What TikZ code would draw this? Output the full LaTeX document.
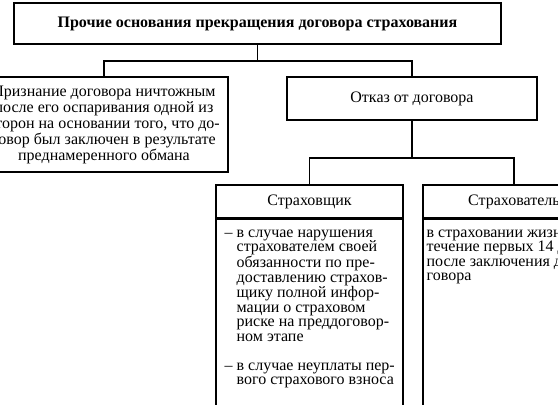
\documentclass[tikz,border=0pt]{standalone}
\usepackage{fontspec}
\setmainfont{Liberation Serif}
\usetikzlibrary{positioning}

\begin{document}
\begin{tikzpicture}[x=1pt, y=-1pt, line width=1.3pt,
    box/.style={draw, inner sep=0pt},
    boxtext/.style={font=\fontsize{16}{16}\selectfont, align=center},
    listtext/.style={font=\fontsize{16}{14.5}\selectfont, align=left, inner sep=0pt, anchor=north west}]
    \path[use as bounding box, clip] (0,0) rectangle (558,405);

    % Title
    \node[box, minimum width=487pt, minimum height=41pt, font=\bfseries\fontsize{16}{16}\selectfont] (title) at (257.5,23.5) {Прочие основания прекращения договора страхования};

    % Second level
    \node[box, boxtext, minimum width=248pt, minimum height=95pt] (nullity) at (104,124.5) {Признание договора ничтожным\\после его оспаривания одной из\\сторон на основании того, что до-\\говор был заключен в результате\\преднамеренного обмана};
    \node[box, boxtext, minimum width=250pt, minimum height=43pt] (refusal) at (412,98.5) {Отказ от договора};

    \coordinate (bus1) at (257.5,61);
    \draw (title.south) -- (bus1);
    \draw (nullity.north) |- (bus1) -| (refusal.north);

    % Third level
    \node[box, boxtext, minimum width=187pt, minimum height=33pt] (insurer) at (309.5,201.5) {Страховщик};
    \node[box, minimum width=187pt, minimum height=210pt, anchor=north] (insurerbody) at (insurer.south) {};
    \node[box, boxtext, minimum width=182pt, minimum height=33pt] (holder) at (514,201.5) {Страхователь};
    \node[box, minimum width=182pt, minimum height=210pt, anchor=north] (holderbody) at (holder.south) {};

    \coordinate (bus2) at (412,158);
    \draw (refusal.south) -- (bus2);
    \draw (insurer.north) |- (bus2) -| (holder.north);

    % Lists
    \node[listtext] (insurerlist) at (236,229) {\llap{– }в случае нарушения\\страхователем своей\\обязанности по пре-\\доставлению страхов-\\щику полной инфор-\\мации о страховом\\риске на преддоговор-\\ном этапе\\[14.5pt]\llap{– }в случае неуплаты пер-\\вого страхового взноса};
    \node[listtext] (holderlist) at (426,229) {в страховании жизни в\\течение первых 14 дней\\после заключения до-\\говора};
\end{tikzpicture}
\end{document}
